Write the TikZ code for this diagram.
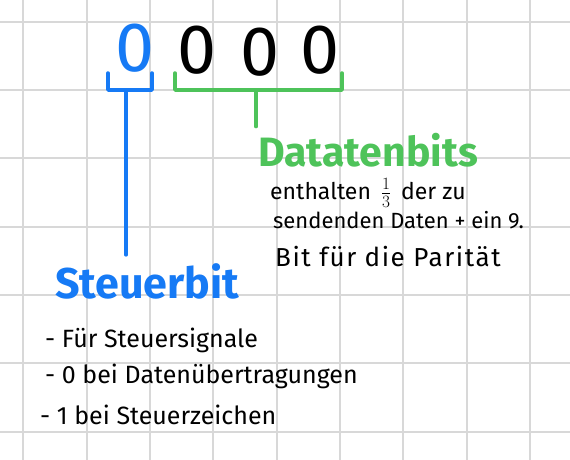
\documentclass[tikz,border=0pt]{standalone}
\usepackage{fontspec}
\setmainfont{Fira Sans}
\usetikzlibrary{positioning,calc}

\definecolor{ctlblue}{RGB}{22,122,245}
\definecolor{datgreen}{RGB}{78,195,90}
\definecolor{gridgray}{RGB}{216,216,216}

\begin{document}
\begin{tikzpicture}[x=1pt, y=-1pt,
    gridline/.style={gridgray, line width=2pt},
    brace/.style={line width=3.5pt, line join=round, line cap=round},
    bitnum/.style={inner sep=0pt, font=\fontsize{70}{70}\selectfont},
    title/.style={anchor=base west, inner sep=0pt, font=\fontsize{41}{41}\selectfont\bfseries},
    note/.style={anchor=base west, inner sep=0pt, font=\fontsize{23}{23}\selectfont},
    item/.style={anchor=base west, inner sep=0pt, font=\fontsize{25}{25}\selectfont}]

    % Paper
    \fill[white] (0,0) rectangle (570,460);
    \useasboundingbox (0,0) rectangle (570,460);

    % Grid
    \foreach \gx in {0,...,8}
        \draw[gridline] ({23.3+63.33*\gx},0) -- ({23.3+63.33*\gx},460);
    \foreach \gy in {0,...,6}
        \draw[gridline] (0,{21.7+68.3*\gy}) -- (570,{21.7+68.3*\gy});

    % Bits
    \node[bitnum, ctlblue] (ctlbit) at (135,48) {0};
    \node[bitnum] (databit1) at (197,50) {0};
    \node[bitnum] (databit2) at (260,52) {0};
    \node[bitnum] (databit3) at (320,50) {0};

    % Brackets
    \draw[brace, ctlblue] (108,73) -- (108,90) -- (152,90) -- (152,73);
    \coordinate (ctlbrace) at (126,90);
    \draw[brace, datgreen] (175,73) -- (175,90) -- (342,90) -- (342,73);
    \coordinate (databrace) at (256,90);

    % Datenbits
    \node[title, datgreen] (datalabel) at (258,166) {Datatenbits};
    \draw[brace, datgreen] (databrace) -- ($(databrace |- datalabel.north)+(0,-6)$);
    \node[note] (info1) at (270,199) {enthalten \,$\frac{1}{3}$\, der zu};
    \node[note, font=\fontsize{22}{22}\selectfont] (info2) at (273,228) {sendenden Daten + ein 9.};
    \node[note, font=\fontsize{26}{26}\selectfont\addfontfeatures{LetterSpace=6}] (info3) at (275,266) {Bit für die Parität};

    % Steuerbit
    \node[title, ctlblue, font=\fontsize{43}{43}\selectfont\bfseries] (ctllabel) at (55,298) {Steuerbit};
    \draw[brace, ctlblue] (ctlbrace) -- ($(ctlbrace |- ctllabel.north)+(0,-8)$);
    \node[item] (ctlnote1) at (45,347) {- Für Steuersignale};
    \node[item] (ctlnote2) at (45,383) {- 0 bei Datenübertragungen};
    \node[item] (ctlnote3) at (40,424) {- 1 bei Steuerzeichen};
\end{tikzpicture}
\end{document}
